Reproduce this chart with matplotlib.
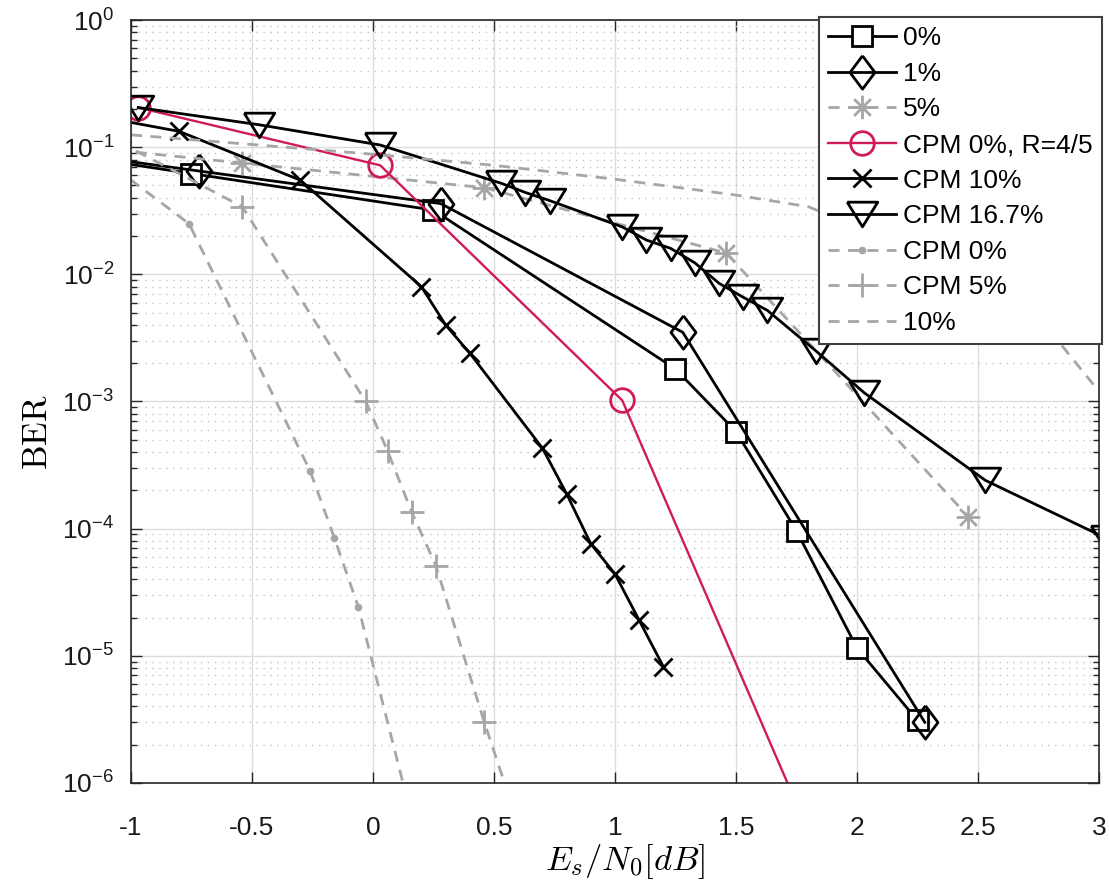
import matplotlib
matplotlib.use("Agg")
import matplotlib.pyplot as plt
from matplotlib.path import Path
from matplotlib.ticker import FixedLocator, NullFormatter, FuncFormatter, LogFormatterSciNotation

plt.rcParams['font.family'] = ['Liberation Sans', 'DejaVu Sans']
plt.rcParams['mathtext.fontset'] = 'custom'
plt.rcParams['mathtext.rm'] = 'Liberation Sans'
plt.rcParams['mathtext.it'] = 'Liberation Sans:italic'
plt.rcParams['axes.unicode_minus'] = False

# data (Es/N0 in dB, BER)
zero_x = [-1.75, -0.75, 0.25, 1.25, 1.5, 1.75, 2.0, 2.25]
zero_y = [0.12, 0.062, 0.032, 1.8e-3, 5.8e-4, 9.6e-5, 1.15e-5, 3.1e-6]

one_x = [-1.72, -0.72, 0.28, 1.28, 2.28]
one_y = [0.118, 0.065, 0.036, 3.5e-3, 3.0e-6]

five_x = [-1.54, -0.54, 0.46, 1.46, 2.46]
five_y = [0.117, 0.075, 0.048, 0.0147, 1.24e-4]

cpm_r45_x = [-0.97, 0.03, 1.03, 2.03]
cpm_r45_y = [0.205, 0.072, 1.02e-3, 4e-8]

cpm10_x = [-1.3, -0.8, -0.3, 0.2, 0.3, 0.4, 0.7, 0.8, 0.9, 1.0, 1.1, 1.2]
cpm10_y = [0.2, 0.133, 0.055, 8.0e-3, 4.0e-3, 2.4e-3, 4.3e-4, 1.88e-4,
           7.6e-5, 4.4e-5, 1.9e-5, 8.2e-6]

cpm167_x = [-0.97, -0.47, 0.03, 0.53, 0.63, 0.73, 1.03, 1.13, 1.23, 1.33,
            1.43, 1.53, 1.63, 1.83, 2.03, 2.53, 3.03]
cpm167_y = [0.205, 0.15, 0.104, 0.052, 0.044, 0.038, 0.0236, 0.0186, 0.016,
            0.0123, 0.0085, 0.0066, 0.0052, 2.5e-3, 1.17e-3, 2.4e-4, 8.4e-5]

cpm0_x = [-1.26, -0.76, -0.26, -0.16, -0.06, 0.24]
cpm0_y = [0.13, 0.025, 2.85e-4, 8.5e-5, 2.4e-5, 1.35e-7]

cpm5_x = [-1.05, -0.54, -0.03, 0.06, 0.16, 0.26, 0.46, 0.75]
cpm5_y = [0.11, 0.034, 1.0e-3, 4.1e-4, 1.35e-4, 5.1e-5, 3.0e-6, 6.6e-8]

ten_x = [-1.0, -0.5, 0.0, 0.5, 1.0, 1.5, 1.8, 2.0, 2.25, 2.5, 2.7, 2.85, 3.0]
ten_y = [0.125, 0.105, 0.088, 0.072, 0.056, 0.042, 0.034, 0.0234, 0.0148,
         0.0083, 4.7e-3, 2.7e-3, 1.2e-3]

x_ticks = [-1, -0.5, 0, 0.5, 1, 1.5, 2, 2.5, 3]
y_ticks = [1e-6, 1e-5, 1e-4, 1e-3, 1e-2, 1e-1, 1]
y_minor = [m * 10.0**k for k in range(-6, 0) for m in range(2, 10)]

# matlab-like markers
diamond = [(0, 1), (0.75, 0), (0, -1), (-0.75, 0), (0, 1)]
tri_down = [(-0.62, 0.5), (0.62, 0.5), (0, -0.5), (-0.62, 0.5)]
s = 0.7071
asterisk = Path([(-1, 0), (1, 0), (0, -1), (0, 1), (-s, -s), (s, s), (-s, s), (s, -s)],
                [Path.MOVETO, Path.LINETO] * 4)

gray = '#a6a6a6'
red = '#d01c55'

fig = plt.figure(figsize=(11.09, 8.86), dpi=100)
ax = fig.add_axes([0.1181, 0.1163, 0.8729, 0.8611])

ax.semilogy(zero_x, zero_y, '-', color='k', lw=2, marker='s', ms=14,
            mfc='white', mec='k', mew=2, label='0%')
ax.semilogy(one_x, one_y, '-', color='k', lw=2, marker=diamond, ms=24,
            mfc='none', mec='k', mew=2, label='1%')
ax.semilogy(five_x, five_y, '--', color=gray, lw=2, dashes=(4, 3), marker=asterisk,
            ms=17, mfc='none', mec=gray, mew=2, label='5%')
ax.semilogy(cpm_r45_x, cpm_r45_y, '-', color=red, lw=1.7, marker='o', ms=17,
            mfc='none', mec=red, mew=2, label='CPM 0%, R=4/5')
ax.semilogy(cpm10_x, cpm10_y, '-', color='k', lw=2, marker='x', ms=13,
            mec='k', mew=2, label='CPM 10%')
ax.semilogy(cpm167_x, cpm167_y, '-', color='k', lw=2, marker=tri_down, ms=22,
            mfc='none', mec='k', mew=2, label='CPM 16.7%')
ax.semilogy(cpm0_x, cpm0_y, '--', color=gray, lw=2, dashes=(4, 3), marker='o',
            ms=4.5, mfc=gray, mec=gray, label='CPM 0%')
ax.semilogy(cpm5_x, cpm5_y, '--', color=gray, lw=2, dashes=(4, 3), marker='+',
            ms=17, mec=gray, mew=2, label='CPM 5%')
ax.semilogy(ten_x, ten_y, '--', color=gray, lw=2, dashes=(4, 3), label='10%')

ax.set_xlim(-1, 3)
ax.set_ylim(1e-6, 1)
ax.xaxis.set_major_locator(FixedLocator(x_ticks))
ax.xaxis.set_major_formatter(FuncFormatter(lambda v, p: ('%g' % v)))
ax.yaxis.set_major_locator(FixedLocator(y_ticks))
ax.yaxis.set_major_formatter(LogFormatterSciNotation())
ax.yaxis.set_minor_locator(FixedLocator(y_minor))
ax.yaxis.set_minor_formatter(NullFormatter())

ax.grid(True, which='major', color='#dcdcdc', lw=1, ls='-')
ax.grid(True, which='minor', axis='y', color='#c4c4c4', lw=1, ls=(0, (1, 4)))
ax.set_axisbelow(True)

for sp in ax.spines.values():
    sp.set_color('#262626')
    sp.set_linewidth(1.2)
ax.tick_params(which='both', direction='in', top=True, right=True, colors='#262626')
ax.tick_params(which='major', length=8, width=1)
ax.tick_params(which='minor', length=4, width=1)
ax.tick_params(axis='x', labelsize=19, pad=24, labelcolor='#1a1a1a')
ax.tick_params(axis='y', labelsize=19, pad=12, labelcolor='#1a1a1a')

ax.set_ylabel(r'$\mathrm{BER}$', fontsize=25, math_fontfamily='cm', va='center')
ax.yaxis.set_label_coords(-0.097, 0.46)
ax.set_xlabel(r'$E_s/N_0[dB]$', fontsize=25, math_fontfamily='cm', va='center')
ax.xaxis.set_label_coords(0.51, -0.1035)

leg = ax.legend(loc='upper right', bbox_to_anchor=(1.003, 1.004), borderaxespad=0,
                fontsize=19, fancybox=False, framealpha=1, edgecolor='#404040',
                handlelength=2.6, handletextpad=0.25, labelspacing=0.44,
                borderpad=0.35)
leg.get_frame().set_linewidth(1.5)

fig.savefig('out.png', dpi=100)
